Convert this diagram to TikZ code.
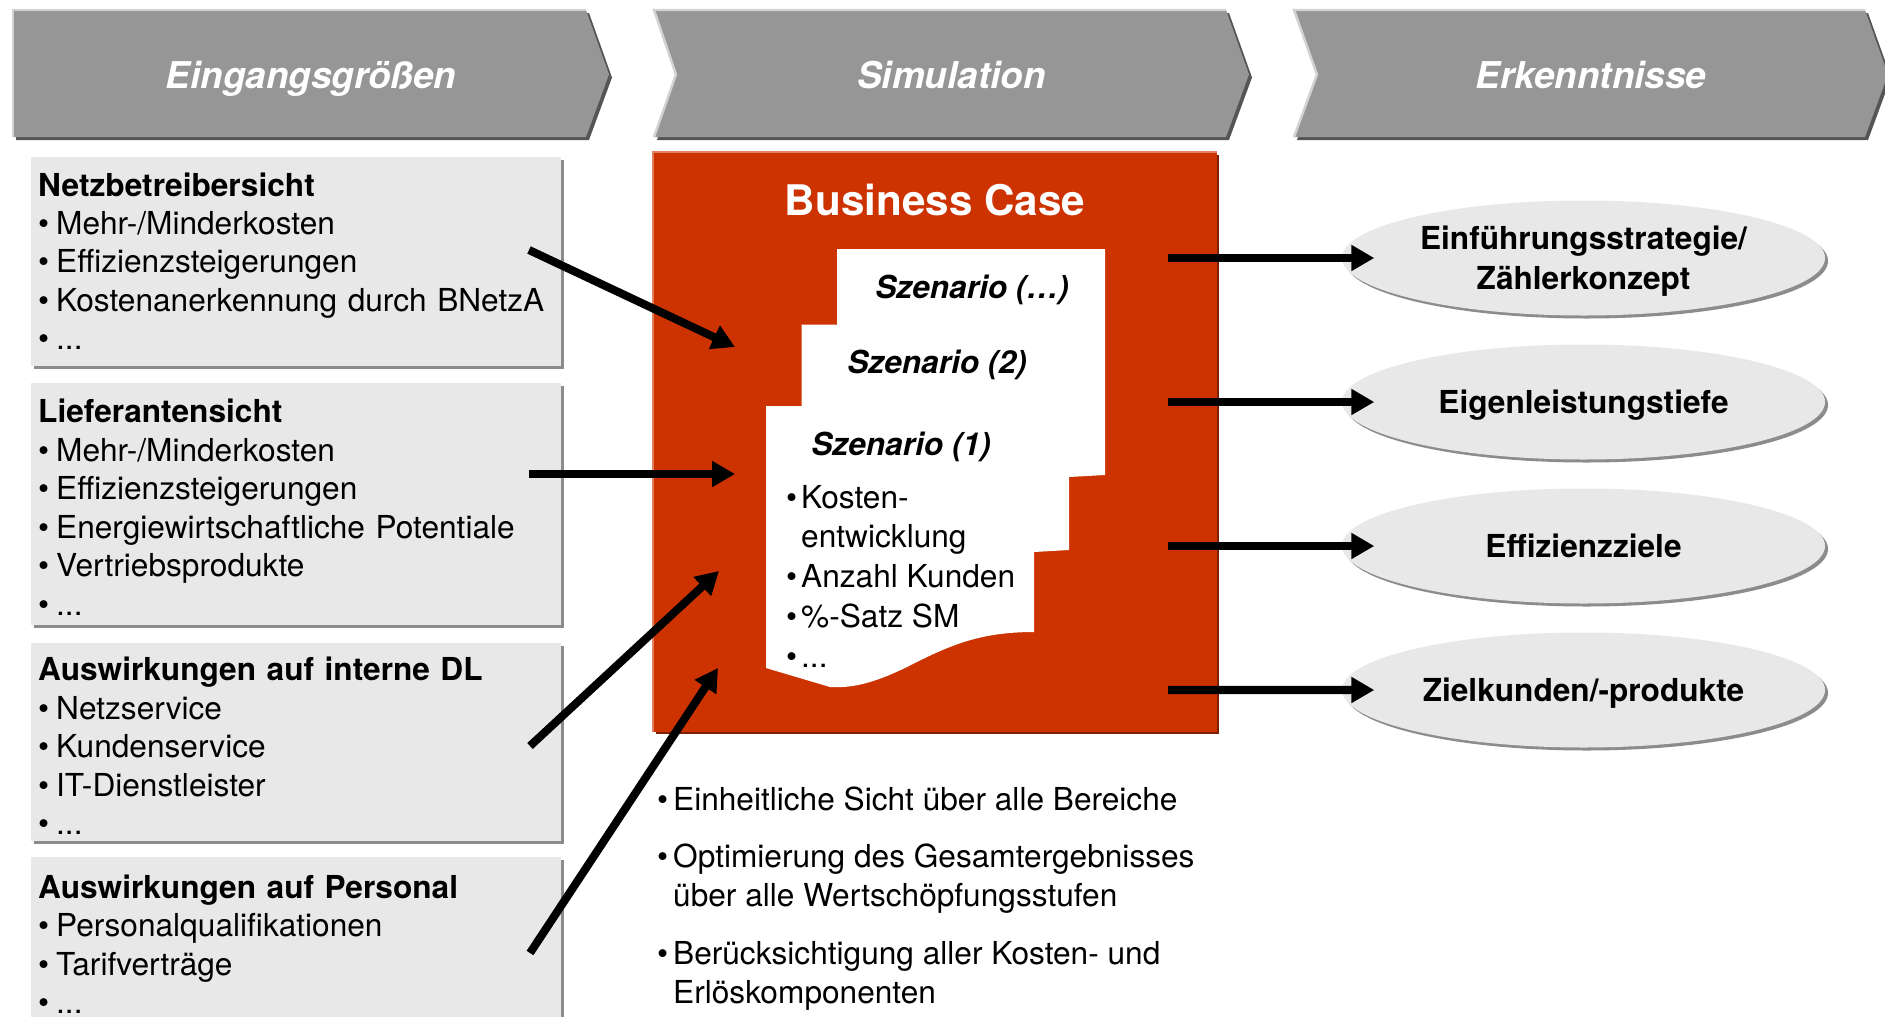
\documentclass[tikz,border=0pt]{standalone}
\usepackage{fontspec}
\setmainfont{TeX Gyre Heros}
\usetikzlibrary{arrows.meta,shapes.geometric,shadows}

\definecolor{chevgray}{RGB}{150,150,150}
\definecolor{chevdark}{RGB}{85,85,85}
\definecolor{chevlight}{RGB}{210,210,210}
\definecolor{boxgray}{RGB}{232,232,232}
\definecolor{boxshadow}{RGB}{140,140,140}
\definecolor{bcred}{RGB}{204,51,0}
\definecolor{bcdark}{RGB}{128,32,0}
\definecolor{bclight}{RGB}{224,128,96}

\newcommand{\itm}[2][0.18cm]{\mbox{\makebox[#1][l]{\textbullet}#2}}

\begin{document}
\begin{tikzpicture}[
        >={Triangle[length=6.5pt,width=7pt]},
        title/.style={
            font=\fontsize{10.5}{12}\selectfont\bfseries\itshape,
            text=white,
            text depth=0pt
        },
        inbox/.style={
            rectangle,
            fill=boxgray,
            anchor=north west,
            text width=5.15cm,
            inner xsep=0.075cm,
            inner ysep=0pt,
            align=left,
            font=\fontsize{9}{10.95}\selectfont,
            drop shadow={shadow xshift=0.03cm, shadow yshift=-0.03cm, fill=boxshadow, opacity=1}
        },
        outbox/.style={
            ellipse,
            fill=boxgray,
            minimum width=4.83cm,
            minimum height=1.15cm,
            inner sep=0pt,
            text depth=0pt,
            align=center,
            font=\fontsize{9}{11.3}\selectfont\bfseries,
            drop shadow={shadow xshift=0.03cm, shadow yshift=-0.03cm, fill=boxshadow, opacity=1}
        },
        scen/.style={
            font=\fontsize{9}{11}\selectfont\bfseries\itshape,
            text depth=0pt
        },
        note/.style={
            anchor=north west,
            inner sep=0pt,
            align=left,
            font=\fontsize{9}{10.95}\selectfont
        },
        flow/.style={
            ->,
            line width=2.3pt,
            draw=black
        }
    ]

    \useasboundingbox (0,0) rectangle (18.85,-10.16);
    \clip (0,0) rectangle (18.85,-10.16);

    \foreach \l/\n/\r/\t/\lbl/\txt in {0.13/0.13/5.86/6.09/ein/Eingangsgrößen,
                                       6.54/6.76/12.26/12.49/sim/Simulation,
                                       12.94/13.17/18.65/18.88/erk/Erkenntnisse} {
        \fill[chevdark, shift={(0.03,-0.03)}] (\l,-0.10) -- (\r,-0.10) -- (\t,-0.745) -- (\r,-1.37) -- (\l,-1.37) -- (\n,-0.745) -- cycle;
        \fill[chevgray] (\l,-0.10) -- (\r,-0.10) -- (\t,-0.745) -- (\r,-1.37) -- (\l,-1.37) -- (\n,-0.745) -- cycle;
        \draw[chevlight, line width=0.7pt] (\l,-1.37) -- (\n,-0.745) -- (\l,-0.10) -- (\r,-0.10);
        \node[title] (\lbl) at ({(\l+\t)/2}, -0.745) {\txt};
    }

    \node[inbox, minimum height=2.09cm] (netz) at (0.30,-1.56) {
        \textbf{Netzbetreibersicht}\\
        \itm{Mehr-/Minderkosten}\\
        \itm{Effizienzsteigerungen}\\
        \itm{Kostenanerkennung durch BNetzA}\\
        \itm{...}};
    \node[inbox, minimum height=2.42cm] (lief) at (0.30,-3.82) {
        \rule{0pt}{0.31cm}\textbf{Lieferantensicht}\\
        \itm{Mehr-/Minderkosten}\\
        \itm{Effizienzsteigerungen}\\
        \itm{Energiewirtschaftliche Potentiale}\\
        \itm{Vertriebsprodukte}\\
        \itm{...}};
    \node[inbox, minimum height=1.98cm] (intdl) at (0.30,-6.42) {
        \rule{0pt}{0.32cm}\textbf{Auswirkungen auf interne DL}\\
        \itm{Netzservice}\\
        \itm{Kundenservice}\\
        \itm{IT-Dienstleister}\\
        \itm{...}};
    \node[inbox, minimum height=1.75cm] (pers) at (0.30,-8.56) {
        \textbf{Auswirkungen auf Personal}\\
        \itm{Personalqualifikationen}\\
        \itm{Tarifverträge}\\
        \itm{...}};

    \node[rectangle, fill=bcred, anchor=north west, inner sep=0pt,
          minimum width=5.63cm, minimum height=5.79cm,
          drop shadow={shadow xshift=0.025cm, shadow yshift=-0.025cm, fill=bcdark, opacity=1}]
          (bc) at (6.53,-1.52) {};
    \draw[bclight, line width=0.7pt] (bc.south west) -- (bc.north west) -- (bc.north east);
    \node[font=\fontsize{12}{14}\selectfont\bfseries, text=white] (bctitle) at (9.35,-2.00) {Business Case};

    \fill[white] (8.37,-2.49) -- (11.05,-2.49) -- (11.05,-4.75) -- (10.69,-4.77) -- (10.69,-5.50)
        -- (10.34,-5.52) -- (10.34,-6.32) .. controls (9.80,-6.32) and (9.50,-6.45) .. (9.07,-6.67)
        .. controls (8.70,-6.85) and (8.50,-6.88) .. (8.30,-6.87) -- (7.66,-6.68) -- (7.66,-4.06)
        -- (8.015,-4.06) -- (8.015,-3.245) -- (8.37,-3.245) -- cycle;

    \node[scen] (sz3) at (9.72,-2.87) {Szenario (…)};
    \node[scen] (sz2) at (9.37,-3.62) {Szenario (2)};
    \node[scen] (sz1) at (9.01,-4.44) {Szenario (1)};
    \node[note, font=\fontsize{9}{11.3}\selectfont] (kpi) at (7.855,-4.845) {
        \itm[0.15cm]{Kosten-}\\
        \hspace*{0.15cm}entwicklung\\
        \itm[0.15cm]{Anzahl Kunden}\\
        \itm[0.15cm]{\%-Satz SM}\\
        \itm[0.15cm]{...}};

    \node[outbox] (e1) at (15.835,-2.58) {Einführungsstrategie/\\Zählerkonzept};
    \node[outbox] (e2) at (15.835,-4.02) {Eigenleistungstiefe};
    \node[outbox] (e3) at (15.835,-5.46) {Effizienzziele};
    \node[outbox] (e4) at (15.835,-6.90) {Zielkunden/-produkte};

    \coordinate (in1) at (5.29,-2.50);
    \coordinate (to1) at (7.35,-3.47);
    \coordinate (in2) at (5.29,-4.74);
    \coordinate (to2) at (7.35,-4.74);
    \coordinate (in3) at (5.30,-7.46);
    \coordinate (to3) at (7.19,-5.71);
    \coordinate (in4) at (5.30,-9.53);
    \coordinate (to4) at (7.18,-6.68);
    \foreach \i in {1,...,4} {
        \draw[flow] (in\i) -- (to\i);
        \coordinate (out\i) at (11.68, {-2.58-1.44*(\i-1)});
        \draw[flow] (out\i) -- ([xshift=0.33cm]e\i.west);
    }

    \node[note] (n1) at (6.565,-7.865) {\itm[0.16cm]{Einheitliche Sicht über alle Bereiche}};
    \node[note] (n2) at (6.565,-8.435) {\itm[0.16cm]{Optimierung des Gesamtergebnisses}\\
        \hspace*{0.16cm}über alle Wertschöpfungsstufen};
    \node[note] (n3) at (6.565,-9.41) {\itm[0.16cm]{Berücksichtigung aller Kosten- und}\\
        \hspace*{0.16cm}Erlöskomponenten};

    \end{tikzpicture}
\end{document}
